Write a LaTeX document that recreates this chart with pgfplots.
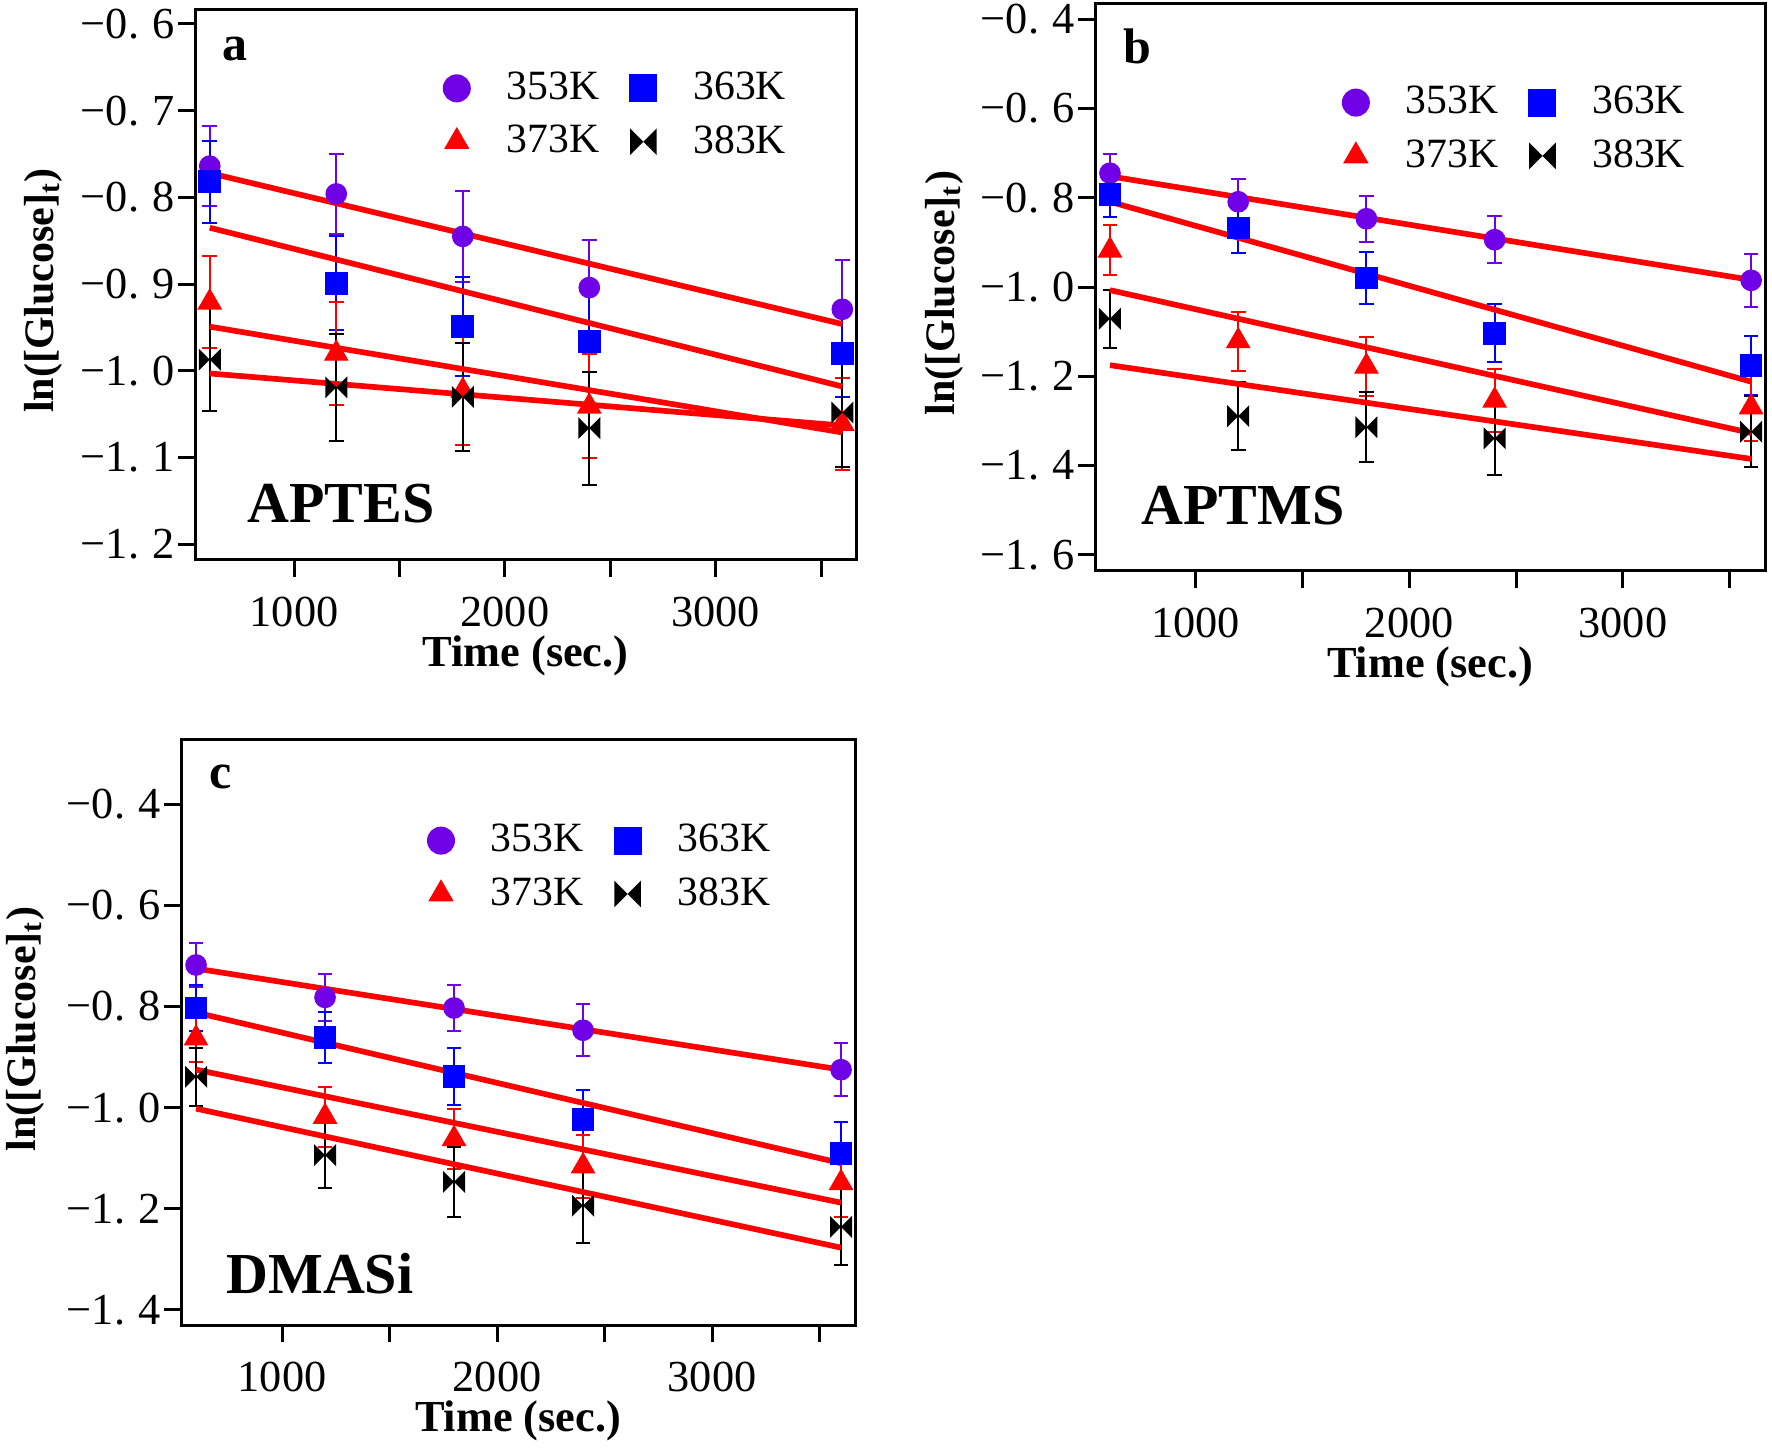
\documentclass[border=0pt]{standalone}
\usepackage{pgfplots}
\pgfplotsset{compat=1.18}
\usepackage{fontspec}
\setmainfont{Liberation Serif}
\definecolor{cviolet}{RGB}{112,0,230}
\definecolor{cblue}{RGB}{0,0,255}
\definecolor{cred}{RGB}{255,0,0}

\pgfdeclareplotmark{bowtie}{%
  \pgfpathmoveto{\pgfqpoint{-\pgfplotmarksize}{\pgfplotmarksize}}%
  \pgfpathlineto{\pgfqpoint{\pgfplotmarksize}{-\pgfplotmarksize}}%
  \pgfpathlineto{\pgfqpoint{\pgfplotmarksize}{\pgfplotmarksize}}%
  \pgfpathlineto{\pgfqpoint{-\pgfplotmarksize}{-\pgfplotmarksize}}%
  \pgfpathclose
  \pgfusepathqfill}

\newcommand{\legtxt}[1]{\fontsize{12.5}{12.5}\selectfont #1}
\newcommand{\ytl}[2]{\textrm{−#1.\hspace{0.3em}#2}}

\pgfplotsset{
  panel/.style={
    scale only axis,
    xmin=530, xmax=3665,
    axis line style={line width=0.9pt},
    tick align=outside,
    xtick pos=bottom, ytick pos=left,
    major tick length=5pt, minor tick length=5pt,
    every tick/.style={line width=0.9pt, black},
    xtick={1000,2000,3000},
    xticklabels={\textrm{1000},\textrm{2000},\textrm{3000}},
    minor xtick={1500,2500,3500},
    tick label style={font=\fontsize{13.3}{13.3}\selectfont},
    xticklabel style={yshift=-2.5pt},
    yticklabel style={xshift=2.4pt},
    xlabel={Time (sec.)},
    ylabel={ln([Glucose]\textsubscript{t})},
    xlabel style={font=\bfseries\fontsize{13.3}{13.3}\selectfont,
      at={(axis description cs:0.5,0)}, yshift=-28.8pt, anchor=center},
    ylabel style={font=\bfseries\fontsize{12.6}{12.6}\selectfont, anchor=center},
    legend columns=2,
    legend cell align=left,
    legend style={draw=none, fill=none, anchor=center, row sep=2.2pt,
      /tikz/every odd column/.append style={column sep=9pt},
      /tikz/every even column/.append style={column sep=7.2pt}},
    legend image code/.code={\draw[#1, mark size=4pt] plot coordinates {(0.2cm,0cm)};},
    error bars/y dir=both, error bars/y explicit,
  },
  s353/.style={only marks, mark=*, mark size=3.05pt, color=cviolet, mark options={fill=cviolet, draw=cviolet},
    error bars/error bar style={line width=0.6pt, cviolet},
    error bars/error mark options={rotate=90, mark size=2.2pt, line width=0.6pt, cviolet}},
  s363/.style={only marks, mark=square*, mark size=3.2pt, color=cblue, mark options={fill=cblue, draw=cblue},
    error bars/error bar style={line width=0.6pt, cblue},
    error bars/error mark options={rotate=90, mark size=2.2pt, line width=0.6pt, cblue}},
  s373/.style={only marks, mark=triangle*, mark size=3.9pt, color=cred, mark options={fill=cred, draw=cred},
    error bars/error bar style={line width=0.6pt, cred},
    error bars/error mark options={rotate=90, mark size=2.2pt, line width=0.6pt, cred}},
  s383/.style={only marks, mark=bowtie, mark size=3.3pt, color=black, mark options={fill=black},
    error bars/error bar style={line width=0.6pt, black},
    error bars/error mark options={rotate=90, mark size=2.2pt, line width=0.6pt, black}},
  fit/.style={no marks, color=cred, line width=1.7pt, forget plot},
}

\begin{document}
\begin{tikzpicture}
\useasboundingbox (0,0) rectangle (531.6pt,-435pt);

% ---------------- panel a ----------------
\begin{axis}[panel,
  at={(58.5pt,-3pt)}, anchor=north west,
  width=198.3pt, height=165pt,
  ymin=-1.218, ymax=-0.584,
  ytick={-1.2,-1.1,-1.0,-0.9,-0.8,-0.7,-0.6},
  yticklabels={\ytl12,\ytl11,\ytl10,\ytl09,\ytl08,\ytl07,\ytl06},
  ylabel style={at={(axis description cs:-0.230,0.49)}},
  legend style={at={(0.64,0.809)}},
]
\addplot+[s353] table[x=x,y=y,y error=e,row sep=\\] {x y e\\ 600 -0.764 0.046\\ 1200 -0.796 0.046\\ 1800 -0.845 0.052\\ 2400 -0.904 0.055\\ 3600 -0.929 0.057\\};
\addlegendentry{\legtxt{353K}}
\addplot+[s363] table[x=x,y=y,y error=e,row sep=\\] {x y e\\ 600 -0.782 0.047\\ 1200 -0.899 0.054\\ 1800 -0.949 0.057\\ 2400 -0.966 0.057\\ 3600 -0.980 0.050\\};
\addlegendentry{\legtxt{363K}}
\addplot+[s373] table[x=x,y=y,y error=e,row sep=\\] {x y e\\ 600 -0.921 0.053\\ 1200 -0.980 0.059\\ 1800 -1.023 0.062\\ 2400 -1.041 0.060\\ 3600 -1.061 0.053\\};
\addlegendentry{\legtxt{373K}}
\addplot+[s383] table[x=x,y=y,y error=e,row sep=\\] {x y e\\ 600 -0.987 0.059\\ 1200 -1.019 0.062\\ 1800 -1.030 0.062\\ 2400 -1.066 0.065\\ 3600 -1.048 0.063\\};
\addlegendentry{\legtxt{383K}}
\addplot[fit] coordinates {(600,-0.772) (3600,-0.946)};
\addplot[fit] coordinates {(600,-0.835) (3600,-1.018)};
\addplot[fit] coordinates {(600,-0.949) (3600,-1.071)};
\addplot[fit] coordinates {(600,-1.003) (3600,-1.063)};
\node[font=\bfseries\fontsize{15}{15}\selectfont] at (rel axis cs:0.06,0.929) {a};
\node[font=\bfseries\fontsize{17.4}{17.4}\selectfont] at (rel axis cs:0.221,0.102) {APTES};
\end{axis}

% ---------------- panel b ----------------
\begin{axis}[panel,
  at={(328.5pt,-1.2pt)}, anchor=north west,
  width=201pt, height=170.1pt,
  ymin=-1.636, ymax=-0.366,
  ytick={-1.6,-1.4,-1.2,-1.0,-0.8,-0.6,-0.4},
  yticklabels={\ytl16,\ytl14,\ytl12,\ytl10,\ytl08,\ytl06,\ytl04},
  ylabel style={at={(axis description cs:-0.225,0.49)}},
  legend style={at={(0.63,0.779)}},
]
\addplot+[s353] table[x=x,y=y,y error=e,row sep=\\] {x y e\\ 600 -0.745 0.042\\ 1200 -0.809 0.050\\ 1800 -0.847 0.052\\ 2400 -0.894 0.053\\ 3600 -0.985 0.059\\};
\addlegendentry{\legtxt{353K}}
\addplot+[s363] table[x=x,y=y,y error=e,row sep=\\] {x y e\\ 600 -0.792 0.052\\ 1200 -0.868 0.055\\ 1800 -0.980 0.058\\ 2400 -1.104 0.065\\ 3600 -1.175 0.066\\};
\addlegendentry{\legtxt{363K}}
\addplot+[s373] table[x=x,y=y,y error=e,row sep=\\] {x y e\\ 600 -0.918 0.056\\ 1200 -1.121 0.066\\ 1800 -1.178 0.067\\ 2400 -1.254 0.070\\ 3600 -1.269 0.075\\};
\addlegendentry{\legtxt{373K}}
\addplot+[s383] table[x=x,y=y,y error=e,row sep=\\] {x y e\\ 600 -1.071 0.065\\ 1200 -1.289 0.077\\ 1800 -1.314 0.078\\ 2400 -1.339 0.081\\ 3600 -1.324 0.080\\};
\addlegendentry{\legtxt{383K}}
\addplot[fit] coordinates {(600,-0.752) (3600,-0.984)};
\addplot[fit] coordinates {(600,-0.809) (3600,-1.212)};
\addplot[fit] coordinates {(600,-1.007) (3600,-1.327)};
\addplot[fit] coordinates {(600,-1.175) (3600,-1.385)};
\node[font=\bfseries\fontsize{15}{15}\selectfont] at (rel axis cs:0.064,0.926) {b};
\node[font=\bfseries\fontsize{17.4}{17.4}\selectfont] at (rel axis cs:0.221,0.116) {APTMS};
\end{axis}

% ---------------- panel c ----------------
\begin{axis}[panel,
  at={(54.3pt,-221.7pt)}, anchor=north west,
  width=202.2pt, height=175.8pt,
  ymin=-1.430, ymax=-0.271,
  ytick={-1.4,-1.2,-1.0,-0.8,-0.6,-0.4},
  yticklabels={\ytl14,\ytl12,\ytl10,\ytl08,\ytl06,\ytl04},
  ylabel style={at={(axis description cs:-0.231,0.505)}},
  legend style={at={(0.625,0.781)}},
]
\addplot+[s353] table[x=x,y=y,y error=e,row sep=\\] {x y e\\ 600 -0.718 0.043\\ 1200 -0.782 0.047\\ 1800 -0.803 0.046\\ 2400 -0.847 0.051\\ 3600 -0.925 0.053\\};
\addlegendentry{\legtxt{353K}}
\addplot+[s363] table[x=x,y=y,y error=e,row sep=\\] {x y e\\ 600 -0.803 0.045\\ 1200 -0.861 0.050\\ 1800 -0.939 0.056\\ 2400 -1.024 0.059\\ 3600 -1.091 0.062\\};
\addlegendentry{\legtxt{363K}}
\addplot+[s373] table[x=x,y=y,y error=e,row sep=\\] {x y e\\ 600 -0.863 0.046\\ 1200 -1.018 0.059\\ 1800 -1.062 0.060\\ 2400 -1.116 0.062\\ 3600 -1.149 0.068\\};
\addlegendentry{\legtxt{373K}}
\addplot+[s383] table[x=x,y=y,y error=e,row sep=\\] {x y e\\ 600 -0.939 0.057\\ 1200 -1.094 0.066\\ 1800 -1.147 0.069\\ 2400 -1.194 0.073\\ 3600 -1.236 0.075\\};
\addlegendentry{\legtxt{383K}}
\addplot[fit] coordinates {(600,-0.725) (3600,-0.925)};
\addplot[fit] coordinates {(600,-0.812) (3600,-1.110)};
\addplot[fit] coordinates {(600,-0.925) (3600,-1.188)};
\addplot[fit] coordinates {(600,-1.002) (3600,-1.277)};
\node[font=\bfseries\fontsize{15}{15}\selectfont] at (rel axis cs:0.059,0.935) {c};
\node[font=\bfseries\fontsize{17.4}{17.4}\selectfont] at (rel axis cs:0.206,0.087) {DMASi};
\end{axis}
\end{tikzpicture}
\end{document}
